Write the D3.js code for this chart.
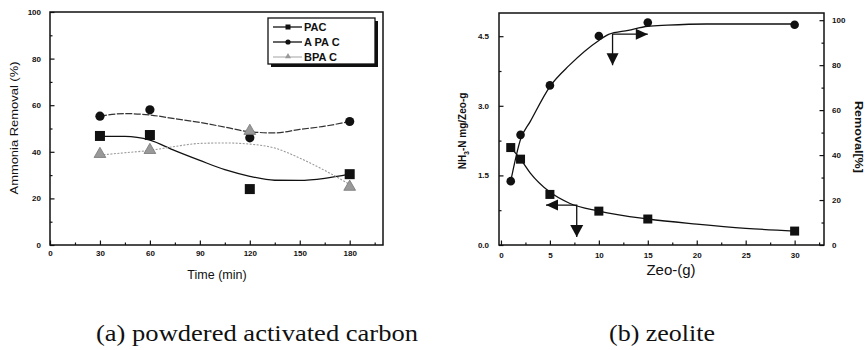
<!DOCTYPE html>
<html>
<head>
<meta charset="utf-8">
<script src="https://cdn.jsdelivr.net/npm/d3@7"></script>
<style>
	body{margin:0;background:#fff;}
	svg text{font-family:"Liberation Sans", Arial, sans-serif;fill:#111;}
	.tick text{font-size:8px;font-weight:bold;}
	.domain{display:none;}
	.tick line{stroke:#111;stroke-width:1.2;}
</style>
</head>
<body>
<div id="c-svg"></div>
<script>

//data (a) powdered activated carbon
const timeMin = [30, 60, 120, 180];
const pacRemoval = [46.8, 47.2, 24.0, 30.4];
const apacRemoval = [55.3, 58.0, 46.0, 53.0];
const bpacRemoval = [38.6, 40.3, 48.5, 24.5];

//fitted curves (a)
const fitTime = [30, 45, 60, 75, 90, 105, 120, 135, 150, 165, 180];
const pacFit = [46.6, 46.6, 45.0, 40.5, 36.3, 32.3, 29.5, 27.8, 27.7, 28.6, 30.4];
const apacFit = [55.3, 56.4, 55.8, 54.2, 52.6, 50.6, 48.6, 48.1, 49.6, 51.0, 53.0];
const bpacFit = [38.6, 39.6, 40.6, 42.3, 43.6, 43.8, 43.3, 41.6, 37.3, 32.0, 26.0];

const legendNames = ["PAC", "A PA C", "BPA C"];

//data (b) zeolite
const zeoDose = [1, 2, 5, 10, 15, 30];
const nh3Load = [2.10, 1.85, 1.09, 0.73, 0.56, 0.30];
const zeoRemoval = [28.4, 49.0, 71.0, 93.0, 99.0, 98.0];

//fitted curves (b)
const loadFitDose = [1, 2, 3, 5, 7, 10, 15, 20, 25, 30];
const loadFit = [2.10, 1.85, 1.55, 1.14, 0.90, 0.73, 0.56, 0.45, 0.36, 0.30];
const removalFitDose = [1, 2, 3, 5, 7, 10, 11, 13, 15, 17, 21, 30];
const removalFit = [28.4, 47.0, 55.0, 70.5, 80.0, 91.0, 93.7, 95.5, 97.3, 97.8, 98.3, 98.3];

//annotation arrows (b): corner, horizontal tip, vertical tip
const removalArrow = [11.4, 93.8, 15.0, 80.0];
const loadArrow = [7.74, 0.86, 4.6, 0.17];

const captions = ["(a) powdered activated carbon", "(b) zeolite"];


let width = 866;
let height = 350;

let svg = d3.select("#c-svg")
	.append("svg")
	.attr("width", width)
	.attr("height", height);

svg.append("rect")
	.attr("width", width)
	.attr("height", height)
	.attr("fill", "#fff");


//helper : inward ticks with minor ticks
function addAxis(g, axisFn, scale, major, minor, pos, padding, fmt){
	let minorAx = axisFn(scale).tickValues(minor).tickSize(-2.5).tickFormat("");
	let majorAx = axisFn(scale).tickValues(major).tickSize(-4.5).tickPadding(padding).tickFormat(fmt);
	g.append("g").attr("transform", pos).call(minorAx);
	g.append("g").attr("transform", pos).call(majorAx)
		.selectAll("text").attr("font-family", null).attr("font-size", null);
}

function triangle(g, tip, dir, len, half){
	let [tx, ty] = tip;
	let pts;
	if (dir === "right") pts = [[tx, ty], [tx - len, ty - half], [tx - len, ty + half]];
	if (dir === "left") pts = [[tx, ty], [tx + len, ty - half], [tx + len, ty + half]];
	if (dir === "down") pts = [[tx, ty], [tx - half, ty - len], [tx + half, ty - len]];
	g.append("path")
		.attr("d", "M" + pts.join("L") + "Z")
		.attr("fill", "#111");
}


//panel (a)
function panelA(){

	let x = d3.scaleLinear().domain([0, 200]).range([50, 383]);
	let y = d3.scaleLinear().domain([0, 100]).range([245, 12]);

	let g = svg.append("g");

	addAxis(g, d3.axisBottom, x, d3.range(0, 181, 30), d3.range(15, 200, 30), "translate(0,245)", 5, d3.format("d"));
	addAxis(g, d3.axisLeft, y, d3.range(0, 101, 20), d3.range(10, 100, 20), "translate(50,0)", 9, d3.format("d"));

	g.append("rect")
		.attr("x", x(0)).attr("y", y(100))
		.attr("width", x(200) - x(0)).attr("height", y(0) - y(100))
		.attr("fill", "none").attr("stroke", "#111").attr("stroke-width", 1.5);

	//fitted lines
	let line = d3.line()
		.x((d, i) => x(fitTime[i]))
		.y(d => y(d))
		.curve(d3.curveMonotoneX);

	g.append("path").datum(pacFit).attr("d", line)
		.attr("fill", "none").attr("stroke", "#111").attr("stroke-width", 1.3);
	g.append("path").datum(apacFit).attr("d", line)
		.attr("fill", "none").attr("stroke", "#333").attr("stroke-width", 1.2)
		.attr("stroke-dasharray", "7,1.5");
	g.append("path").datum(bpacFit).attr("d", line)
		.attr("fill", "none").attr("stroke", "#999").attr("stroke-width", 1.1)
		.attr("stroke-dasharray", "2,1.5");

	//markers
	g.selectAll(".pac").data(pacRemoval).join("rect")
		.attr("x", (d, i) => x(timeMin[i]) - 5).attr("y", d => y(d) - 5)
		.attr("width", 10).attr("height", 10).attr("fill", "#111");
	g.selectAll(".apac").data(apacRemoval).join("circle")
		.attr("cx", (d, i) => x(timeMin[i])).attr("cy", d => y(d))
		.attr("r", 4.6).attr("fill", "#111");
	g.selectAll(".bpac").data(bpacRemoval).join("path")
		.attr("transform", (d, i) => "translate(" + x(timeMin[i]) + "," + (y(d) - 1) + ")")
		.attr("d", d3.symbol(d3.symbolTriangle, 60))
		.attr("fill", "#999").attr("stroke", "#777").attr("stroke-width", 0.8);

	//legend
	let lg = g.append("g");
	lg.append("rect").attr("x", 271).attr("y", 21).attr("width", 107).attr("height", 46).attr("fill", "#111");
	lg.append("rect").attr("x", 268).attr("y", 18).attr("width", 107).attr("height", 46)
		.attr("fill", "#fff").attr("stroke", "#111").attr("stroke-width", 1.3);

	legendNames.forEach((name, i) => {
		let ly = 27 + i * 15;
		let col = i === 2 ? "#999" : "#111";
		lg.append("line").attr("x1", 273).attr("x2", 302).attr("y1", ly).attr("y2", ly)
			.attr("stroke", col).attr("stroke-width", i === 2 ? 0.9 : 1.3);
		if (i === 0) lg.append("rect").attr("x", 285.5).attr("y", ly - 2.5).attr("width", 5).attr("height", 5).attr("fill", "#111");
		if (i === 1) lg.append("circle").attr("cx", 288).attr("cy", ly).attr("r", 2.6).attr("fill", "#111");
		if (i === 2) lg.append("path").attr("transform", "translate(288," + (ly - 0.5) + ")")
			.attr("d", d3.symbol(d3.symbolTriangle, 16)).attr("fill", "#999");
		lg.append("text").attr("x", 304).attr("y", ly + 4)
			.attr("font-size", 11).attr("font-weight", "bold")
			.text(name);
	});

	//titles
	g.append("text")
		.attr("transform", "translate(18,128) rotate(-90)")
		.attr("text-anchor", "middle")
		.attr("font-size", 11)
		.attr("textLength", 133).attr("lengthAdjust", "spacingAndGlyphs")
		.text("Ammonia Removal (%)");
	g.append("text")
		.attr("x", 217).attr("y", 279)
		.attr("text-anchor", "middle")
		.attr("font-size", 12.5)
		.text("Time (min)");
}


//panel (b)
function panelB(){

	let x = d3.scaleLinear().domain([-0.2, 33]).range([499, 824]);
	let yL = d3.scaleLinear().domain([0, 5]).range([245, 13]);
	let yR = d3.scaleLinear().domain([0, 103.2]).range([245, 13]);

	let g = svg.append("g");

	addAxis(g, d3.axisBottom, x, d3.range(0, 31, 5), d3.range(2.5, 33, 5), "translate(0,245)", 7, d3.format("d"));
	addAxis(g, d3.axisLeft, yL, [0, 1.5, 3, 4.5], [0.75, 2.25, 3.75], "translate(499,0)", 10, d3.format(".1f"));
	addAxis(g, d3.axisRight, yR, d3.range(0, 101, 20), d3.range(10, 100, 20), "translate(824,0)", 8, d3.format("d"));

	g.append("rect")
		.attr("x", 499).attr("y", 13)
		.attr("width", 824 - 499).attr("height", 245 - 13)
		.attr("fill", "none").attr("stroke", "#111").attr("stroke-width", 1.5);

	//fitted lines
	let loadLine = d3.line()
		.x((d, i) => x(loadFitDose[i]))
		.y(d => yL(d))
		.curve(d3.curveMonotoneX);
	let removalLine = d3.line()
		.x((d, i) => x(removalFitDose[i]))
		.y(d => yR(d))
		.curve(d3.curveMonotoneX);

	g.append("path").datum(loadFit).attr("d", loadLine)
		.attr("fill", "none").attr("stroke", "#111").attr("stroke-width", 1.3);
	g.append("path").datum(removalFit).attr("d", removalLine)
		.attr("fill", "none").attr("stroke", "#111").attr("stroke-width", 1.3);

	//markers
	g.selectAll(".load").data(nh3Load).join("rect")
		.attr("x", (d, i) => x(zeoDose[i]) - 4.5).attr("y", d => yL(d) - 4.5)
		.attr("width", 9).attr("height", 9).attr("fill", "#111");
	g.selectAll(".rem").data(zeoRemoval).join("circle")
		.attr("cx", (d, i) => x(zeoDose[i])).attr("cy", d => yR(d))
		.attr("r", 4.3).attr("fill", "#111");

	//arrows
	let a1 = [x(removalArrow[0]), yR(removalArrow[1])];
	g.append("path")
		.attr("d", "M" + x(removalArrow[2]) + "," + a1[1] + "L" + a1.join(",") + "L" + a1[0] + "," + yR(removalArrow[3]))
		.attr("fill", "none").attr("stroke", "#111").attr("stroke-width", 1.3);
	triangle(g, [x(removalArrow[2]), a1[1]], "right", 12, 5.5);
	triangle(g, [a1[0], yR(removalArrow[3])], "down", 12, 6);

	let a2 = [x(loadArrow[0]), yL(loadArrow[1])];
	g.append("path")
		.attr("d", "M" + x(loadArrow[2]) + "," + a2[1] + "L" + a2.join(",") + "L" + a2[0] + "," + yL(loadArrow[3]))
		.attr("fill", "none").attr("stroke", "#111").attr("stroke-width", 1.3);
	triangle(g, [x(loadArrow[2]), a2[1]], "left", 12, 5.5);
	triangle(g, [a2[0], yL(loadArrow[3])], "down", 12, 6.5);

	//titles
	let tl = g.append("text")
		.attr("transform", "translate(466,131) rotate(-90)")
		.attr("text-anchor", "middle")
		.attr("font-size", 10).attr("font-weight", "bold");
	tl.append("tspan").text("NH");
	tl.append("tspan").attr("font-size", 7).attr("dy", 3).text("3");
	tl.append("tspan").attr("dy", -3).text("-N mg/Zeo-g");

	g.append("text")
		.attr("transform", "translate(855,137) rotate(90)")
		.attr("text-anchor", "middle")
		.attr("font-size", 11).attr("font-weight", "bold")
		.attr("textLength", 72).attr("lengthAdjust", "spacingAndGlyphs")
		.text("Removal[%]");

	g.append("text")
		.attr("x", 671).attr("y", 275)
		.attr("text-anchor", "middle")
		.attr("font-size", 15)
		.text("Zeo-(g)");
}


panelA();
panelB();

//captions
svg.append("text")
	.attr("x", 96).attr("y", 341)
	.attr("font-size", 24)
	.style("font-family", "'Liberation Serif', 'DejaVu Serif', serif")
	.attr("textLength", 322).attr("lengthAdjust", "spacingAndGlyphs")
	.text(captions[0]);
svg.append("text")
	.attr("x", 609).attr("y", 341)
	.attr("font-size", 24)
	.style("font-family", "'Liberation Serif', 'DejaVu Serif', serif")
	.attr("textLength", 106).attr("lengthAdjust", "spacingAndGlyphs")
	.text(captions[1]);

</script>
</body>
</html>
